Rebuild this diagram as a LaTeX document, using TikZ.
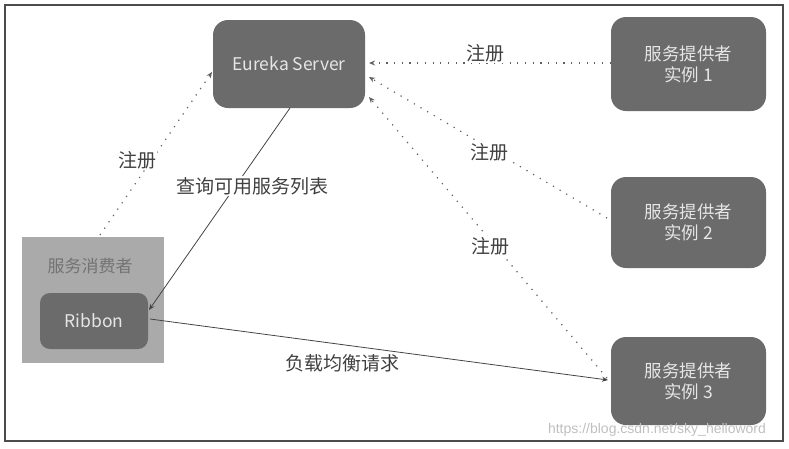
\documentclass[tikz,border=0pt]{standalone}
\usepackage{fontspec}
\setmainfont{Noto Sans CJK SC}
\newfontfamily\wmfont{Liberation Sans}
\usetikzlibrary{arrows.meta}
\definecolor{boxgray}{HTML}{6B6B6B}
\definecolor{consgray}{HTML}{AAAAAA}
\definecolor{boxtext}{HTML}{E6E6E6}
\definecolor{linegray}{HTML}{444444}
\begin{document}
\begin{tikzpicture}[x=1pt,y=-1pt,
  darkbox/.style={draw=none,fill=boxgray,rounded corners=15pt,text=boxtext,
    font=\fontsize{17.5}{21}\selectfont,align=center,inner sep=0pt},
  reg/.style={draw=linegray!85,line width=1.2pt,dash pattern=on 1.2pt off 6.5pt,
    -{Stealth[length=6pt,width=5pt]}},
  solidarr/.style={draw=linegray,line width=0.8pt,-{Stealth[length=6pt,width=5pt]}},
  lbl/.style={fill=white,inner sep=1pt,text=black!75,font=\fontsize{19}{22}\selectfont}]
\useasboundingbox (0,0) rectangle (789,448);
\draw[line width=1.3pt,color=black!70] (5,5) rectangle (783,441);
% nodes
\node[darkbox,minimum width=152pt,minimum height=88pt] (eureka) at (289,64) {Eureka Server};
\node[darkbox,minimum width=155pt,minimum height=94pt] (p1) at (688.5,64) {服务提供者\\实例 1};
\node[darkbox,minimum width=155pt,minimum height=91pt] (p2) at (688.5,222.5) {服务提供者\\实例 2};
\node[darkbox,minimum width=155pt,minimum height=88pt] (p3) at (688.5,381) {服务提供者\\实例 3};
\node[fill=consgray,minimum width=142pt,minimum height=126pt,inner sep=0pt] (cons) at (93,300) {};
\node[text=black!55,font=\fontsize{17}{20}\selectfont] (conslbl) at (90,266) {服务消费者};
\node[darkbox,rounded corners=10pt,minimum width=108pt,minimum height=56pt] (ribbon) at (94,321) {Ribbon};
% anchors for connector ends
\coordinate (e1) at (369,63);
\coordinate (e2) at (369,77);
\coordinate (e3) at (369,97);
\coordinate (e4) at (212,72);
\coordinate (p2s) at (607,218);
\coordinate (p3s) at (607,378);
\coordinate (p3e) at (608,380);
\coordinate (cs) at (100,235);
\coordinate (eb) at (290,108);
\coordinate (rs) at (150,319);
\coordinate (re) at (149,310);
% connectors
\draw[reg] (p1.west |- e1) -- (e1);
\draw[reg] (p2s) -- (e2);
\draw[reg] (p3s) -- (e3);
\draw[reg] (cs) -- (e4);
\draw[solidarr] (eb) -- (re);
\draw[solidarr] (rs) -- (p3e);
% labels
\node[lbl] (l1) at (485,53) {注册};
\node[lbl] (l2) at (489,152) {注册};
\node[lbl] (l3) at (490,246) {注册};
\node[lbl] (l4) at (137,160) {注册};
\node[lbl] (l5) at (252,186) {查询可用服务列表};
\node[lbl] (l6) at (342,363) {负载均衡请求};
\node[text=black!25,font=\wmfont\fontsize{14}{16}\selectfont,inner sep=0pt] (wm) at (657,430) {https://blog.csdn.net/sky\_helloword};
\end{tikzpicture}
\end{document}
